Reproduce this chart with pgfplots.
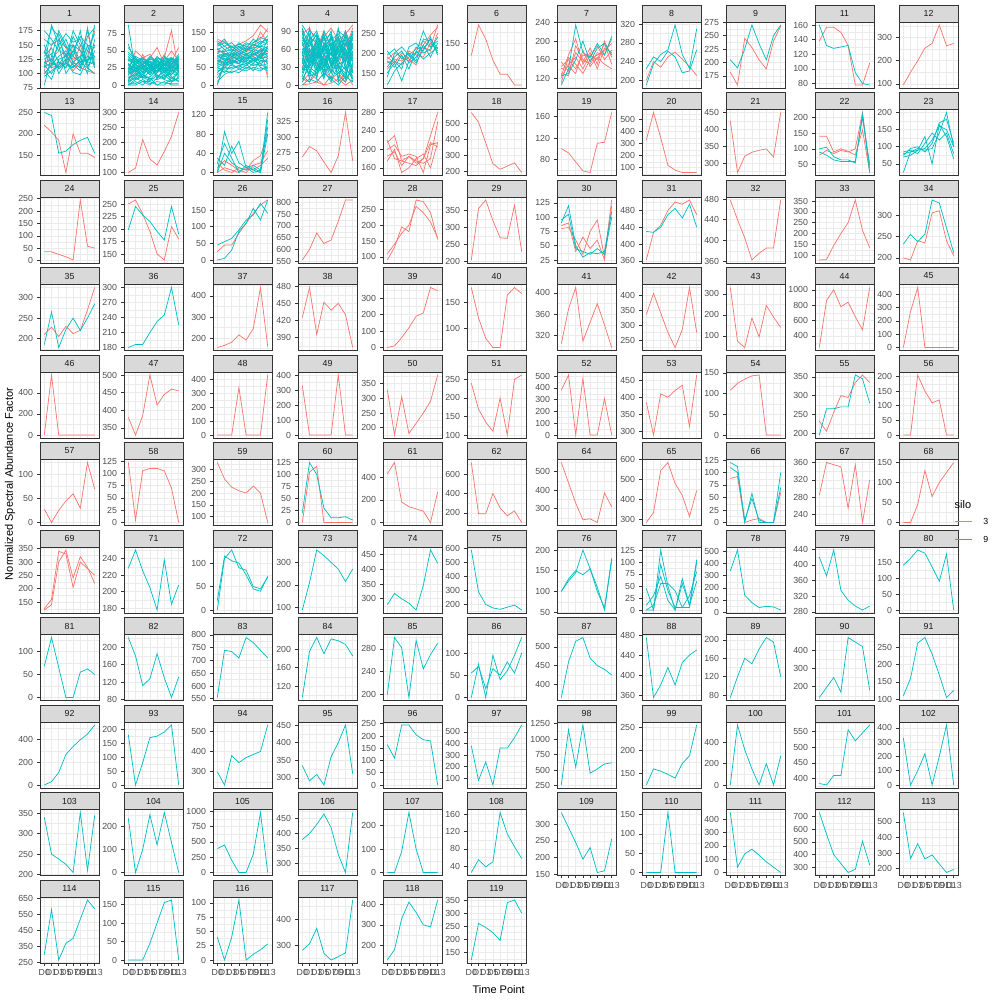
\documentclass[border=0pt]{standalone}
\usepackage{fontspec}
\setmainfont{Liberation Sans}
\usepackage{pgfplots}
\pgfplotsset{compat=1.18}
\definecolor{c3}{HTML}{F8766D}
\definecolor{c9}{HTML}{00BFC4}
\definecolor{gridc}{HTML}{EBEBEB}
\definecolor{framec}{HTML}{333333}
\definecolor{stripc}{HTML}{D9D9D9}
\definecolor{tickc}{HTML}{4D4D4D}
\newcommand\tf{\fontsize{6.6}{7.5}\selectfont}
\pgfplotsset{
  pan/.style={scale only axis, width=44.25pt, height=49.5pt, anchor=north west,
    xmin=0.4, xmax=8.6, xtick={1,...,8}, xticklabels={}, xtick style={draw=none},
    enlarge y limits=0.05, scaled y ticks=false,
    grid=both, minor y tick num=1, minor tick length=0pt,
    major grid style={line width=0.45pt, color=gridc},
    minor grid style={line width=0.25pt, color=gridc},
    axis line style={line width=0.5pt, color=framec},
    tick align=outside, tick pos=left, major tick length=2.06pt,
    every tick/.append style={line width=0.45pt, color=framec},
    ticklabel style={font=\tf, text=tickc},
    yticklabel style={/pgf/number format/fixed, /pgf/number format/1000 sep={}, xshift=0.3pt},
    /pgf/number format/assume math mode=true,
    title style={at={(0.5,1)}, anchor=south, yshift=-6.25pt, fill=stripc, draw=framec,
      line width=0.5pt, inner sep=0pt, minimum width=44.25pt, minimum height=12.75pt,
      font=\tf, text=black!90},
  },
  bot/.style={xticklabels={D0,D1,D3,D5,D7,D9,D11,D13}, xtick style={draw=framec},
    xticklabel style={yshift=0.6pt}},
  sR/.style={color=c3, line width=0.55pt, no markers},
  sC/.style={color=c9, line width=0.55pt, no markers},
}
\newcommand\pnl[5]{\begin{axis}[pan,at={(#1pt,-#2pt)},title={#3},#4]#5\end{axis}}
\begin{document}
\begin{tikzpicture}
\useasboundingbox (0,0) rectangle (750pt,-750pt);
% ---------------- Row 1
\pnl{30}{16.5}{1}{ytick distance=25}{
\addplot[sR] coordinates {(1,120)(2,125)(3,140)(4,135)(5,115)(6,150)(7,110)(8,100)};
\addplot[sR] coordinates {(1,105)(2,150)(3,160)(4,145)(5,125)(6,130)(7,175)(8,110)};
\addplot[sR] coordinates {(1,140)(2,110)(3,115)(4,125)(5,105)(6,120)(7,130)(8,175)};
\addplot[sR] coordinates {(1,100)(2,115)(3,120)(4,110)(5,150)(6,110)(7,105)(8,100)};
\addplot[sC] coordinates {(1,120)(2,110)(3,160)(4,130)(5,150)(6,140)(7,120)(8,185)};
\addplot[sC] coordinates {(1,80)(2,130)(3,175)(4,150)(5,120)(6,130)(7,100)(8,160)};
\addplot[sC] coordinates {(1,110)(2,185)(3,150)(4,170)(5,155)(6,160)(7,115)(8,120)};
\addplot[sC] coordinates {(1,150)(2,120)(3,110)(4,125)(5,175)(6,150)(7,140)(8,130)};
\addplot[sC] coordinates {(1,130)(2,145)(3,120)(4,115)(5,110)(6,125)(7,165)(8,180)};
\addplot[sC] coordinates {(1,100)(2,115)(3,130)(4,140)(5,120)(6,110)(7,150)(8,110)};
\addplot[sC] coordinates {(1,175)(2,160)(3,140)(4,160)(5,130)(6,175)(7,110)(8,140)};
\addplot[sC] coordinates {(1,115)(2,100)(3,120)(4,110)(5,140)(6,115)(7,130)(8,125)};
\addplot[sC] coordinates {(1,125)(2,135)(3,100)(4,120)(5,165)(6,140)(7,120)(8,150)};
\addplot[sC] coordinates {(1,140)(2,120)(3,150)(4,100)(5,120)(6,110)(7,180)(8,115)};
\addplot[sC] coordinates {(1,95)(2,105)(3,115)(4,135)(5,130)(6,120)(7,110)(8,100)};
\addplot[sC] coordinates {(1,160)(2,150)(3,170)(4,145)(5,150)(6,120)(7,125)(8,130)};
\addplot[sC] coordinates {(1,118)(2,125)(3,108)(4,118)(5,112)(6,122)(7,120)(8,118)};
\addplot[sC] coordinates {(1,105)(2,90)(3,125)(4,130)(5,115)(6,105)(7,140)(8,170)};
\addplot[sC] coordinates {(1,135)(2,180)(3,165)(4,120)(5,140)(6,165)(7,150)(8,145)};
\addplot[sC] coordinates {(1,112)(2,118)(3,112)(4,120)(5,102)(6,98)(7,124)(8,128)};
}
\pnl{93}{16.5}{2}{ytick distance=25}{
\addplot[sR] coordinates {(1,20)(2,50)(3,40)(4,45)(5,30)(6,40)(7,80)(8,20)};
\addplot[sR] coordinates {(1,10)(2,25)(3,30)(4,40)(5,55)(6,30)(7,35)(8,55)};
\addplot[sR] coordinates {(1,5)(2,15)(3,10)(4,20)(5,25)(6,45)(7,20)(8,30)};
\addplot[sR] coordinates {(1,30)(2,20)(3,45)(4,25)(5,40)(6,35)(7,50)(8,35)};
\addplot[sC] coordinates {(1,88)(2,20)(3,15)(4,30)(5,10)(6,25)(7,5)(8,20)};
\addplot[sC] coordinates {(1,0)(2,5)(3,0)(4,10)(5,0)(6,5)(7,0)(8,0)};
\addplot[sC] coordinates {(1,40)(2,30)(3,35)(4,25)(5,30)(6,20)(7,35)(8,30)};
\addplot[sC] coordinates {(1,20)(2,35)(3,25)(4,15)(5,30)(6,35)(7,20)(8,40)};
\addplot[sC] coordinates {(1,10)(2,15)(3,20)(4,25)(5,15)(6,10)(7,25)(8,15)};
\addplot[sC] coordinates {(1,30)(2,25)(3,30)(4,35)(5,28)(6,30)(7,25)(8,35)};
\addplot[sC] coordinates {(1,5)(2,10)(3,5)(4,0)(5,10)(6,15)(7,5)(8,10)};
\addplot[sC] coordinates {(1,55)(2,40)(3,30)(4,38)(5,35)(6,30)(7,40)(8,25)};
\addplot[sC] coordinates {(1,25)(2,20)(3,35)(4,30)(5,20)(6,25)(7,30)(8,20)};
\addplot[sC] coordinates {(1,15)(2,25)(3,10)(4,20)(5,25)(6,20)(7,15)(8,30)};
\addplot[sC] coordinates {(1,35)(2,40)(3,28)(4,30)(5,40)(6,35)(7,30)(8,45)};
\addplot[sC] coordinates {(1,0)(2,0)(3,5)(4,5)(5,0)(6,0)(7,10)(8,5)};
\addplot[sC] coordinates {(1,45)(2,35)(3,40)(4,30)(5,25)(6,40)(7,35)(8,30)};
\addplot[sC] coordinates {(1,22)(2,28)(3,18)(4,22)(5,30)(6,25)(7,20)(8,25)};
\addplot[sC] coordinates {(1,12)(2,8)(3,15)(4,10)(5,8)(6,12)(7,18)(8,12)};
\addplot[sC] coordinates {(1,60)(2,30)(3,25)(4,35)(5,30)(6,30)(7,25)(8,40)};
\addplot[sC] coordinates {(1,32)(2,20)(3,25)(4,38)(5,35)(6,28)(7,38)(8,28)};
\addplot[sC] coordinates {(1,18)(2,30)(3,22)(4,28)(5,18)(6,32)(7,28)(8,22)};
\addplot[sC] coordinates {(1,8)(2,18)(3,30)(4,15)(5,22)(6,18)(7,10)(8,18)};
\addplot[sC] coordinates {(1,28)(2,38)(3,32)(4,40)(5,32)(6,38)(7,40)(8,35)};
\addplot[sC] coordinates {(1,2)(2,2)(3,8)(4,2)(5,5)(6,3)(7,2)(8,2)};
\addplot[sC] coordinates {(1,38)(2,25)(3,20)(4,25)(5,38)(6,22)(7,32)(8,38)};
\addplot[sC] coordinates {(1,3)(2,12)(3,25)(4,18)(5,30)(6,8)(7,22)(8,14)};
\addplot[sC] coordinates {(1,42)(2,30)(3,38)(4,33)(5,27)(6,36)(7,30)(8,42)};
\addplot[sC] coordinates {(1,16)(2,22)(3,12)(4,30)(5,20)(6,28)(7,35)(8,26)};
\addplot[sC] coordinates {(1,26)(2,15)(3,28)(4,20)(5,35)(6,18)(7,25)(8,32)};
\addplot[sC] coordinates {(1,6)(2,25)(3,15)(4,8)(5,18)(6,25)(7,12)(8,6)};
\addplot[sC] coordinates {(1,36)(2,32)(3,40)(4,28)(5,42)(6,30)(7,38)(8,33)};
\addplot[sC] coordinates {(1,20)(2,10)(3,18)(4,35)(5,12)(6,20)(7,28)(8,18)};
\addplot[sC] coordinates {(1,48)(2,38)(3,30)(4,42)(5,35)(6,42)(7,30)(8,38)};
\addplot[sC] coordinates {(1,14)(2,35)(3,30)(4,22)(5,28)(6,14)(7,32)(8,24)};
\addplot[sC] coordinates {(1,30)(2,18)(3,10)(4,12)(5,22)(6,30)(7,15)(8,28)};
\addplot[sC] coordinates {(1,0)(2,8)(3,12)(4,6)(5,14)(6,8)(7,4)(8,12)};
\addplot[sC] coordinates {(1,24)(2,42)(3,36)(4,26)(5,20)(6,34)(7,40)(8,30)};
}
\pnl{159.75}{16.5}{3}{ytick distance=50}{
\addplot[sR] coordinates {(1,130)(2,120)(3,110)(4,115)(5,125)(6,140)(7,170)(8,150)};
\addplot[sR] coordinates {(1,0)(2,60)(3,75)(4,80)(5,90)(6,85)(7,100)(8,30)};
\addplot[sR] coordinates {(1,100)(2,90)(3,80)(4,110)(5,95)(6,120)(7,130)(8,160)};
\addplot[sR] coordinates {(1,70)(2,80)(3,90)(4,85)(5,100)(6,95)(7,110)(8,20)};
\addplot[sR] coordinates {(1,115)(2,125)(3,100)(4,95)(5,110)(6,105)(7,150)(8,120)};
\addplot[sR] coordinates {(1,60)(2,70)(3,65)(4,75)(5,85)(6,80)(7,95)(8,90)};
\addplot[sC] coordinates {(1,0)(2,70)(3,80)(4,90)(5,85)(6,100)(7,95)(8,110)};
\addplot[sC] coordinates {(1,60)(2,55)(3,70)(4,65)(5,80)(6,75)(7,85)(8,90)};
\addplot[sC] coordinates {(1,80)(2,90)(3,75)(4,85)(5,95)(6,90)(7,80)(8,100)};
\addplot[sC] coordinates {(1,50)(2,60)(3,55)(4,50)(5,70)(6,65)(7,75)(8,80)};
\addplot[sC] coordinates {(1,100)(2,110)(3,95)(4,105)(5,120)(6,110)(7,125)(8,115)};
\addplot[sC] coordinates {(1,70)(2,65)(3,80)(4,70)(5,60)(6,75)(7,70)(8,65)};
\addplot[sC] coordinates {(1,40)(2,45)(3,50)(4,55)(5,45)(6,60)(7,55)(8,60)};
\addplot[sC] coordinates {(1,120)(2,100)(3,110)(4,95)(5,105)(6,130)(7,115)(8,140)};
\addplot[sC] coordinates {(1,90)(2,80)(3,85)(4,95)(5,90)(6,85)(7,100)(8,95)};
\addplot[sC] coordinates {(1,30)(2,40)(3,35)(4,45)(5,40)(6,50)(7,45)(8,50)};
\addplot[sC] coordinates {(1,110)(2,120)(3,105)(4,115)(5,110)(6,100)(7,120)(8,130)};
\addplot[sC] coordinates {(1,65)(2,75)(3,70)(4,60)(5,75)(6,80)(7,65)(8,70)};
\addplot[sC] coordinates {(1,85)(2,70)(3,90)(4,80)(5,70)(6,95)(7,90)(8,85)};
\addplot[sC] coordinates {(1,55)(2,65)(3,60)(4,70)(5,65)(6,55)(7,60)(8,75)};
\addplot[sC] coordinates {(1,75)(2,85)(3,65)(4,75)(5,85)(6,70)(7,80)(8,60)};
\addplot[sC] coordinates {(1,10)(2,30)(3,40)(4,35)(5,50)(6,45)(7,40)(8,55)};
\addplot[sC] coordinates {(1,95)(2,95)(3,100)(4,90)(5,100)(6,105)(7,110)(8,120)};
\addplot[sC] coordinates {(1,45)(2,50)(3,65)(4,60)(5,55)(6,70)(7,60)(8,45)};
\addplot[sC] coordinates {(1,35)(2,55)(3,75)(4,60)(5,90)(6,70)(7,80)(8,105)};
\addplot[sC] coordinates {(1,105)(2,85)(3,95)(4,120)(5,100)(6,115)(7,105)(8,95)};
\addplot[sC] coordinates {(1,20)(2,50)(3,45)(4,55)(5,60)(6,40)(7,70)(8,65)};
\addplot[sC] coordinates {(1,80)(2,75)(3,60)(4,80)(5,65)(6,90)(7,75)(8,110)};
\addplot[sC] coordinates {(1,125)(2,110)(3,120)(4,100)(5,115)(6,120)(7,135)(8,125)};
\addplot[sC] coordinates {(1,60)(2,90)(3,85)(4,70)(5,80)(6,60)(7,90)(8,75)};
\addplot[sC] coordinates {(1,90)(2,100)(3,80)(4,95)(5,105)(6,95)(7,85)(8,130)};
\addplot[sC] coordinates {(1,50)(2,35)(3,60)(4,45)(5,55)(6,75)(7,50)(8,40)};
\addplot[sC] coordinates {(1,70)(2,60)(3,95)(4,85)(5,75)(6,85)(7,100)(8,80)};
\addplot[sC] coordinates {(1,115)(2,130)(3,100)(4,110)(5,95)(6,115)(7,110)(8,105)};
}
\pnl{223.5}{16.5}{4}{ytick distance=30}{
\addplot[sR] coordinates {(1,90)(2,70)(3,50)(4,60)(5,80)(6,40)(7,60)(8,95)};
\addplot[sR] coordinates {(1,5)(2,20)(3,10)(4,0)(5,15)(6,5)(7,20)(8,0)};
\addplot[sR] coordinates {(1,50)(2,40)(3,80)(4,70)(5,40)(6,60)(7,90)(8,60)};
\addplot[sR] coordinates {(1,30)(2,60)(3,30)(4,50)(5,20)(6,80)(7,40)(8,80)};
\addplot[sR] coordinates {(1,70)(2,50)(3,60)(4,90)(5,60)(6,30)(7,70)(8,40)};
\addplot[sR] coordinates {(1,10)(2,5)(3,20)(4,30)(5,10)(6,20)(7,5)(8,30)};
\addplot[sR] coordinates {(1,0)(2,2)(3,5)(4,0)(5,3)(6,10)(7,0)(8,8)};
\addplot[sR] coordinates {(1,85)(2,95)(3,70)(4,80)(5,95)(6,75)(7,85)(8,100)};
\addplot[sC] coordinates {(1,95)(2,60)(3,40)(4,80)(5,30)(6,60)(7,70)(8,50)};
\addplot[sC] coordinates {(1,10)(2,30)(3,20)(4,50)(5,40)(6,20)(7,30)(8,10)};
\addplot[sC] coordinates {(1,50)(2,70)(3,60)(4,30)(5,80)(6,50)(7,40)(8,70)};
\addplot[sC] coordinates {(1,30)(2,20)(3,50)(4,40)(5,20)(6,70)(7,60)(8,40)};
\addplot[sC] coordinates {(1,70)(2,90)(3,80)(4,60)(5,50)(6,40)(7,80)(8,60)};
\addplot[sC] coordinates {(1,0)(2,10)(3,5)(4,20)(5,10)(6,0)(7,15)(8,5)};
\addplot[sC] coordinates {(1,60)(2,40)(3,70)(4,50)(5,60)(6,80)(7,50)(8,30)};
\addplot[sC] coordinates {(1,80)(2,50)(3,30)(4,70)(5,40)(6,30)(7,20)(8,80)};
\addplot[sC] coordinates {(1,20)(2,60)(3,40)(4,10)(5,70)(6,50)(7,60)(8,20)};
\addplot[sC] coordinates {(1,40)(2,30)(3,60)(4,80)(5,50)(6,60)(7,30)(8,50)};
\addplot[sC] coordinates {(1,100)(2,80)(3,70)(4,40)(5,60)(6,70)(7,50)(8,90)};
\addplot[sC] coordinates {(1,15)(2,5)(3,30)(4,25)(5,5)(6,35)(7,10)(8,25)};
\addplot[sC] coordinates {(1,55)(2,75)(3,45)(4,65)(5,35)(6,45)(7,85)(8,45)};
\addplot[sC] coordinates {(1,35)(2,45)(3,25)(4,35)(5,55)(6,25)(7,45)(8,65)};
\addplot[sC] coordinates {(1,75)(2,65)(3,85)(4,55)(5,75)(6,85)(7,65)(8,75)};
\addplot[sC] coordinates {(1,45)(2,25)(3,15)(4,45)(5,25)(6,15)(7,5)(8,35)};
\addplot[sC] coordinates {(1,85)(2,55)(3,65)(4,75)(5,85)(6,55)(7,75)(8,55)};
\addplot[sC] coordinates {(1,25)(2,35)(3,55)(4,15)(5,45)(6,40)(7,25)(8,15)};
\addplot[sC] coordinates {(1,65)(2,85)(3,35)(4,25)(5,55)(6,75)(7,35)(8,85)};
\addplot[sC] coordinates {(1,5)(2,40)(3,60)(4,30)(5,65)(6,10)(7,55)(8,40)};
\addplot[sC] coordinates {(1,90)(2,30)(3,50)(4,85)(5,30)(6,90)(7,80)(8,20)};
\addplot[sC] coordinates {(1,25)(2,75)(3,90)(4,55)(5,20)(6,45)(7,70)(8,60)};
\addplot[sC] coordinates {(1,50)(2,15)(3,20)(4,65)(5,90)(6,25)(7,10)(8,70)};
\addplot[sC] coordinates {(1,80)(2,45)(3,75)(4,35)(5,45)(6,65)(7,90)(8,35)};
\addplot[sC] coordinates {(1,35)(2,95)(3,25)(4,60)(5,80)(6,35)(7,40)(8,90)};
\addplot[sC] coordinates {(1,60)(2,65)(3,85)(4,15)(5,35)(6,55)(7,60)(8,10)};
\addplot[sC] coordinates {(1,15)(2,50)(3,45)(4,90)(5,65)(6,80)(7,25)(8,45)};
\addplot[sC] coordinates {(1,95)(2,20)(3,55)(4,45)(5,10)(6,50)(7,85)(8,65)};
\addplot[sC] coordinates {(1,40)(2,80)(3,10)(4,70)(5,50)(6,95)(7,45)(8,25)};
\addplot[sC] coordinates {(1,70)(2,35)(3,65)(4,20)(5,85)(6,5)(7,70)(8,85)};
\addplot[sC] coordinates {(1,55)(2,10)(3,80)(4,50)(5,70)(6,30)(7,15)(8,55)};
\addplot[sC] coordinates {(1,20)(2,55)(3,40)(4,85)(5,30)(6,65)(7,50)(8,5)};
}
\pnl{287.25}{16.5}{5}{ytick distance=50}{
\addplot[sR] coordinates {(1,175)(2,185)(3,180)(4,195)(5,210)(6,230)(7,215)(8,270)};
\addplot[sR] coordinates {(1,190)(2,175)(3,200)(4,185)(5,170)(6,220)(7,245)(8,265)};
\addplot[sR] coordinates {(1,160)(2,180)(3,170)(4,205)(5,195)(6,190)(7,225)(8,205)};
\addplot[sR] coordinates {(1,185)(2,200)(3,190)(4,180)(5,200)(6,215)(7,205)(8,250)};
\addplot[sC] coordinates {(1,120)(2,155)(3,175)(4,190)(5,200)(6,255)(7,215)(8,230)};
\addplot[sC] coordinates {(1,150)(2,175)(3,130)(4,180)(5,215)(6,205)(7,240)(8,195)};
\addplot[sC] coordinates {(1,165)(2,190)(3,205)(4,175)(5,190)(6,220)(7,190)(8,225)};
\addplot[sC] coordinates {(1,195)(2,210)(3,185)(4,200)(5,180)(6,235)(7,230)(8,200)};
\addplot[sC] coordinates {(1,180)(2,165)(3,195)(4,160)(5,205)(6,185)(7,200)(8,215)};
\addplot[sC] coordinates {(1,205)(2,180)(3,160)(4,215)(5,225)(6,200)(7,210)(8,240)};
\addplot[sC] coordinates {(1,140)(2,200)(3,215)(4,195)(5,175)(6,210)(7,235)(8,210)};
}
\pnl{350.25}{16.5}{6}{ytick distance=50}{
\addplot[sR] coordinates {(1,125)(2,190)(3,160)(4,115)(5,85)(6,85)(7,62)(8,62)};
}
\pnl{417.75}{16.5}{7}{ytick distance=40}{
\addplot[sR] coordinates {(1,120)(2,150)(3,165)(4,140)(5,170)(6,160)(7,195)(8,150)};
\addplot[sR] coordinates {(1,130)(2,125)(3,190)(4,160)(5,150)(6,175)(7,170)(8,205)};
\addplot[sR] coordinates {(1,145)(2,160)(3,140)(4,170)(5,165)(6,190)(7,160)(8,180)};
\addplot[sR] coordinates {(1,155)(2,135)(3,175)(4,155)(5,185)(6,150)(7,200)(8,165)};
\addplot[sR] coordinates {(1,110)(2,165)(3,150)(4,130)(5,160)(6,170)(7,180)(8,195)};
\addplot[sR] coordinates {(1,140)(2,145)(3,130)(4,180)(5,145)(6,165)(7,150)(8,140)};
\addplot[sR] coordinates {(1,125)(2,170)(3,205)(4,150)(5,175)(6,140)(7,185)(8,175)};
\addplot[sC] coordinates {(1,105)(2,140)(3,235)(4,175)(5,165)(6,195)(7,170)(8,210)};
\addplot[sC] coordinates {(1,125)(2,130)(3,160)(4,200)(5,155)(6,185)(7,195)(8,170)};
}
\pnl{481.5}{16.5}{8}{ytick distance=40}{
\addplot[sR] coordinates {(1,200)(2,240)(3,228)(4,250)(5,260)(6,245)(7,230)(8,210)};
\addplot[sC] coordinates {(1,190)(2,235)(3,255)(4,265)(5,318)(6,255)(7,225)(8,310)};
\addplot[sC] coordinates {(1,225)(2,250)(3,240)(4,262)(5,250)(6,216)(7,220)(8,265)};
}
\pnl{544.5}{16.5}{9}{ytick distance=25}{
\addplot[sR] coordinates {(1,182)(2,158)(3,245)(4,228)(5,205)(6,188)(7,240)(8,268)};
\addplot[sC] coordinates {(1,205)(2,190)(3,225)(4,270)(5,235)(6,205)(7,250)(8,270)};
}
\pnl{611.25}{16.5}{11}{ytick distance=20}{
\addplot[sR] coordinates {(1,138)(2,157)(3,157)(4,150)(5,132)(6,78)(7,78)(8,108)};
\addplot[sC] coordinates {(1,160)(2,132)(3,128)(4,130)(5,132)(6,95)(7,80)(8,78)};
}
\pnl{674.25}{16.5}{12}{ytick distance=100}{
\addplot[sR] coordinates {(1,95)(2,150)(3,200)(4,255)(5,275)(6,355)(7,265)(8,275)};
}
% ---------------- Row 2
\pnl{30}{82.125}{13}{ytick distance=50}{
\addplot[sR] coordinates {(1,220)(2,205)(3,185)(4,110)(5,200)(6,155)(7,155)(8,145)};
\addplot[sC] coordinates {(1,250)(2,243)(3,155)(4,160)(5,175)(6,185)(7,192)(8,155)};
}
\pnl{93}{82.125}{14}{ytick distance=50}{
\addplot[sR] coordinates {(1,100)(2,115)(3,210)(4,145)(5,125)(6,170)(7,220)(8,300)};
}
\pnl{159.75}{82.125}{15}{ytick distance=40}{
\addplot[sR] coordinates {(1,20)(2,5)(3,0)(4,10)(5,5)(6,25)(7,35)(8,80)};
\addplot[sR] coordinates {(1,0)(2,10)(3,5)(4,0)(5,10)(6,5)(7,15)(8,30)};
\addplot[sR] coordinates {(1,10)(2,25)(3,15)(4,5)(5,0)(6,15)(7,20)(8,45)};
\addplot[sC] coordinates {(1,0)(2,85)(3,40)(4,65)(5,10)(6,0)(7,5)(8,125)};
\addplot[sC] coordinates {(1,20)(2,60)(3,30)(4,0)(5,15)(6,5)(7,0)(8,80)};
\addplot[sC] coordinates {(1,0)(2,40)(3,20)(4,10)(5,5)(6,10)(7,0)(8,110)};
\addplot[sC] coordinates {(1,30)(2,15)(3,55)(4,20)(5,10)(6,15)(7,5)(8,95)};
}
\pnl{223.5}{82.125}{16}{ytick distance=25}{
\addplot[sR] coordinates {(1,268)(2,285)(3,278)(4,260)(5,243)(6,270)(7,340)(8,262)};
}
\pnl{287.25}{82.125}{17}{ytick distance=40}{
\addplot[sR] coordinates {(1,215)(2,230)(3,175)(4,185)(5,170)(6,180)(7,230)(8,280)};
\addplot[sR] coordinates {(1,200)(2,210)(3,185)(4,190)(5,185)(6,150)(7,210)(8,215)};
\addplot[sR] coordinates {(1,185)(2,195)(3,165)(4,185)(5,175)(6,170)(7,180)(8,260)};
\addplot[sR] coordinates {(1,175)(2,200)(3,150)(4,160)(5,180)(6,190)(7,160)(8,215)};
\addplot[sR] coordinates {(1,220)(2,180)(3,175)(4,170)(5,165)(6,180)(7,215)(8,205)};
}
\pnl{350.25}{82.125}{18}{ytick distance=100}{
\addplot[sR] coordinates {(1,570)(2,510)(3,380)(4,250)(5,215)(6,235)(7,255)(8,195)};
}
\pnl{417.75}{82.125}{19}{ytick distance=40}{
\addplot[sR] coordinates {(1,100)(2,92)(3,75)(4,58)(5,55)(6,110)(7,112)(8,168)};
}
\pnl{481.5}{82.125}{20}{ytick distance=100}{
\addplot[sR] coordinates {(1,330)(2,560)(3,350)(4,120)(5,80)(6,60)(7,60)(8,60)};
}
\pnl{544.5}{82.125}{21}{ytick distance=50}{
\addplot[sR] coordinates {(1,425)(2,272)(3,320)(4,332)(5,338)(6,342)(7,318)(8,450)};
}
\pnl{611.25}{82.125}{22}{ytick distance=50}{
\addplot[sR] coordinates {(1,140)(2,140)(3,90)(4,100)(5,92)(6,80)(7,160)(8,25)};
\addplot[sR] coordinates {(1,80)(2,95)(3,85)(4,95)(5,90)(6,100)(7,215)(8,40)};
\addplot[sC] coordinates {(1,100)(2,105)(3,75)(4,65)(5,65)(6,55)(7,210)(8,25)};
\addplot[sC] coordinates {(1,90)(2,80)(3,65)(4,60)(5,60)(6,60)(7,200)(8,50)};
}
\pnl{674.25}{82.125}{23}{ytick distance=50}{
\addplot[sC] coordinates {(1,25)(2,85)(3,90)(4,130)(5,50)(6,165)(7,130)(8,65)};
\addplot[sC] coordinates {(1,80)(2,85)(3,95)(4,90)(5,95)(6,140)(7,200)(8,100)};
\addplot[sC] coordinates {(1,70)(2,75)(3,90)(4,95)(5,120)(6,160)(7,150)(8,100)};
\addplot[sC] coordinates {(1,85)(2,90)(3,80)(4,110)(5,140)(6,120)(7,140)(8,80)};
\addplot[sC] coordinates {(1,75)(2,95)(3,100)(4,85)(5,110)(6,170)(7,180)(8,110)};
}
% ---------------- Row 3
\pnl{30}{147.75}{24}{ytick distance=50}{
\addplot[sR] coordinates {(1,35)(2,35)(3,25)(4,15)(5,2)(6,245)(7,58)(8,50)};
}
\pnl{93}{147.75}{25}{ytick distance=25}{
\addplot[sR] coordinates {(1,250)(2,258)(3,230)(4,195)(5,150)(6,138)(7,205)(8,180)};
\addplot[sC] coordinates {(1,198)(2,245)(3,228)(4,215)(5,195)(6,178)(7,245)(8,190)};
}
\pnl{159.75}{147.75}{26}{ytick distance=50}{
\addplot[sR] coordinates {(1,25)(2,45)(3,45)(4,80)(5,110)(6,140)(7,165)(8,180)};
\addplot[sC] coordinates {(1,0)(2,5)(3,30)(4,85)(5,110)(6,155)(7,120)(8,180)};
\addplot[sC] coordinates {(1,45)(2,55)(3,65)(4,90)(5,120)(6,135)(7,170)(8,140)};
}
\pnl{223.5}{147.75}{27}{ytick distance=50}{
\addplot[sR] coordinates {(1,555)(2,600)(3,670)(4,625)(5,640)(6,720)(7,810)(8,810)};
}
\pnl{287.25}{147.75}{28}{ytick distance=50}{
\addplot[sR] coordinates {(1,90)(2,130)(3,195)(4,180)(5,280)(6,275)(7,240)(8,155)};
\addplot[sR] coordinates {(1,110)(2,140)(3,175)(4,200)(5,260)(6,240)(7,210)(8,160)};
}
\pnl{350.25}{147.75}{29}{ytick distance=50}{
\addplot[sR] coordinates {(1,205)(2,355)(3,380)(4,320)(5,270)(6,268)(7,365)(8,230)};
}
\pnl{417.75}{147.75}{30}{ytick distance=25}{
\addplot[sR] coordinates {(1,80)(2,82)(3,60)(4,35)(5,75)(6,95)(7,30)(8,130)};
\addplot[sR] coordinates {(1,85)(2,90)(3,40)(4,65)(5,45)(6,60)(7,25)(8,120)};
\addplot[sC] coordinates {(1,90)(2,120)(3,50)(4,30)(5,38)(6,36)(7,40)(8,110)};
\addplot[sC] coordinates {(1,95)(2,105)(3,45)(4,40)(5,35)(6,45)(7,35)(8,100)};
}
\pnl{481.5}{147.75}{31}{ytick distance=40}{
\addplot[sR] coordinates {(1,362)(2,428)(3,445)(4,480)(5,500)(6,495)(7,505)(8,470)};
\addplot[sC] coordinates {(1,430)(2,428)(3,440)(4,470)(5,485)(6,462)(7,495)(8,440)};
}
\pnl{544.5}{147.75}{32}{ytick distance=40}{
\addplot[sR] coordinates {(1,478)(2,440)(3,405)(4,362)(5,375)(6,385)(7,385)(8,478)};
}
\pnl{611.25}{147.75}{33}{ytick distance=50}{
\addplot[sR] coordinates {(1,78)(2,80)(3,145)(4,200)(5,250)(6,355)(7,215)(8,135)};
}
\pnl{674.25}{147.75}{34}{ytick distance=50}{
\addplot[sR] coordinates {(1,200)(2,195)(3,240)(4,235)(5,305)(6,310)(7,240)(8,205)};
\addplot[sC] coordinates {(1,232)(2,255)(3,238)(4,255)(5,335)(6,328)(7,270)(8,212)};
}
% ---------------- Row 4
\pnl{30}{213.375}{35}{ytick distance=50}{
\addplot[sR] coordinates {(1,210)(2,228)(3,205)(4,230)(5,212)(6,220)(7,270)(8,325)};
\addplot[sC] coordinates {(1,185)(2,265)(3,178)(4,222)(5,250)(6,220)(7,250)(8,285)};
}
\pnl{93}{213.375}{36}{ytick distance=30}{
\addplot[sC] coordinates {(1,180)(2,186)(3,186)(4,210)(5,232)(6,245)(7,300)(8,225)};
}
\pnl{159.75}{213.375}{37}{ytick distance=100}{
\addplot[sR] coordinates {(1,155)(2,165)(3,180)(4,215)(5,190)(6,245)(7,440)(8,160)};
}
\pnl{223.5}{213.375}{38}{ytick distance=30}{
\addplot[sR] coordinates {(1,425)(2,478)(3,395)(4,452)(5,438)(6,450)(7,430)(8,372)};
}
\pnl{287.25}{213.375}{39}{ytick distance=100}{
\addplot[sR] coordinates {(1,0)(2,10)(3,60)(4,120)(5,190)(6,210)(7,365)(8,345)};
}
\pnl{350.25}{213.375}{40}{ytick distance=50}{
\addplot[sR] coordinates {(1,180)(2,120)(3,80)(4,62)(5,62)(6,165)(7,180)(8,168)};
}
\pnl{417.75}{213.375}{41}{ytick distance=40}{
\addplot[sR] coordinates {(1,305)(2,370)(3,410)(4,310)(5,345)(6,380)(7,340)(8,298)};
}
\pnl{481.5}{213.375}{42}{ytick distance=50}{
\addplot[sR] coordinates {(1,335)(2,405)(3,340)(4,275)(5,225)(6,285)(7,425)(8,275)};
}
\pnl{544.5}{213.375}{43}{ytick distance=100}{
\addplot[sR] coordinates {(1,330)(2,75)(3,45)(4,185)(5,95)(6,245)(7,190)(8,140)};
}
\pnl{611.25}{213.375}{44}{ytick distance=200}{
\addplot[sR] coordinates {(1,250)(2,860)(3,1000)(4,780)(5,840)(6,650)(7,480)(8,1030)};
}
\pnl{674.25}{213.375}{45}{ytick distance=100}{
\addplot[sR] coordinates {(1,0)(2,270)(3,450)(4,0)(5,0)(6,0)(7,0)(8,0)};
}
% ---------------- Row 5
\pnl{30}{279}{46}{ytick distance=200}{
\addplot[sR] coordinates {(1,0)(2,570)(3,0)(4,0)(5,0)(6,0)(7,0)(8,0)};
}
\pnl{93}{279}{47}{ytick distance=50}{
\addplot[sR] coordinates {(1,380)(2,330)(3,385)(4,500)(5,415)(6,445)(7,460)(8,455)};
}
\pnl{159.75}{279}{48}{ytick distance=100}{
\addplot[sR] coordinates {(1,0)(2,0)(3,0)(4,340)(5,0)(6,0)(7,0)(8,430)};
}
\pnl{223.5}{279}{49}{ytick distance=100}{
\addplot[sR] coordinates {(1,330)(2,0)(3,0)(4,0)(5,0)(6,400)(7,0)(8,0)};
}
\pnl{287.25}{279}{50}{ytick distance=50}{
\addplot[sR] coordinates {(1,330)(2,175)(3,305)(4,180)(5,215)(6,250)(7,290)(8,380)};
}
\pnl{350.25}{279}{51}{ytick distance=50}{
\addplot[sR] coordinates {(1,240)(2,170)(3,135)(4,110)(5,200)(6,100)(7,250)(8,262)};
}
\pnl{417.75}{279}{52}{ytick distance=100}{
\addplot[sR] coordinates {(1,380)(2,510)(3,0)(4,480)(5,0)(6,0)(7,310)(8,0)};
}
\pnl{481.5}{279}{53}{ytick distance=50}{
\addplot[sR] coordinates {(1,385)(2,290)(3,410)(4,400)(5,420)(6,435)(7,315)(8,465)};
}
\pnl{544.5}{279}{54}{ytick distance=50}{
\addplot[sR] coordinates {(1,108)(2,125)(3,135)(4,143)(5,145)(6,0)(7,0)(8,0)};
}
\pnl{611.25}{279}{55}{ytick distance=50}{
\addplot[sR] coordinates {(1,232)(2,205)(3,255)(4,300)(5,295)(6,335)(7,355)(8,335)};
\addplot[sC] coordinates {(1,195)(2,265)(3,265)(4,270)(5,270)(6,355)(7,345)(8,280)};
}
\pnl{674.25}{279}{56}{ytick distance=50}{
\addplot[sR] coordinates {(1,0)(2,0)(3,205)(4,150)(5,110)(6,120)(7,0)(8,0)};
}
% ---------------- Row 6
\pnl{30}{344.625}{57}{ytick distance=50}{
\addplot[sR] coordinates {(1,28)(2,0)(3,25)(4,45)(5,60)(6,30)(7,125)(8,70)};
}
\pnl{93}{344.625}{58}{ytick distance=25}{
\addplot[sR] coordinates {(1,122)(2,5)(3,105)(4,110)(5,110)(6,105)(7,70)(8,0)};
}
\pnl{159.75}{344.625}{59}{ytick distance=50}{
\addplot[sR] coordinates {(1,330)(2,260)(3,225)(4,210)(5,200)(6,230)(7,200)(8,75)};
}
\pnl{223.5}{344.625}{60}{ytick distance=25}{
\addplot[sR] coordinates {(1,0)(2,105)(3,117)(4,0)(5,0)(6,0)(7,0)(8,0)};
\addplot[sC] coordinates {(1,20)(2,125)(3,100)(4,30)(5,10)(6,10)(7,12)(8,5)};
}
\pnl{287.25}{344.625}{61}{ytick distance=200}{
\addplot[sR] coordinates {(1,430)(2,530)(3,180)(4,140)(5,120)(6,100)(7,0)(8,270)};
}
\pnl{350.25}{344.625}{62}{ytick distance=200}{
\addplot[sR] coordinates {(1,720)(2,190)(3,190)(4,400)(5,250)(6,170)(7,220)(8,100)};
}
\pnl{417.75}{344.625}{64}{ytick distance=100}{
\addplot[sR] coordinates {(1,550)(2,440)(3,330)(4,240)(5,245)(6,225)(7,385)(8,310)};
}
\pnl{481.5}{344.625}{65}{ytick distance=100}{
\addplot[sR] coordinates {(1,285)(2,335)(3,545)(4,585)(5,480)(6,420)(7,315)(8,445)};
}
\pnl{544.5}{344.625}{66}{ytick distance=25}{
\addplot[sR] coordinates {(1,88)(2,92)(3,0)(4,5)(5,8)(6,0)(7,0)(8,60)};
\addplot[sC] coordinates {(1,120)(2,112)(3,0)(4,58)(5,0)(6,0)(7,0)(8,100)};
\addplot[sC] coordinates {(1,110)(2,100)(3,5)(4,48)(5,5)(6,0)(7,0)(8,70)};
}
\pnl{611.25}{344.625}{67}{ytick distance=40}{
\addplot[sR] coordinates {(1,285)(2,360)(3,355)(4,350)(5,255)(6,355)(7,222)(8,320)};
}
\pnl{674.25}{344.625}{68}{ytick distance=50}{
\addplot[sR] coordinates {(1,0)(2,0)(3,45)(4,130)(5,65)(6,100)(7,125)(8,150)};
}
% ---------------- Row 7
\pnl{30}{410.25}{69}{ytick distance=50}{
\addplot[sR] coordinates {(1,120)(2,140)(3,300)(4,345)(5,240)(6,320)(7,280)(8,220)};
\addplot[sR] coordinates {(1,125)(2,160)(3,340)(4,330)(5,205)(6,300)(7,275)(8,250)};
}
\pnl{93}{410.25}{71}{ytick distance=20}{
\addplot[sC] coordinates {(1,228)(2,250)(3,225)(4,205)(5,178)(6,238)(7,185)(8,208)};
}
\pnl{159.75}{410.25}{72}{ytick distance=50}{
\addplot[sC] coordinates {(1,0)(2,110)(3,128)(4,90)(5,85)(6,50)(7,45)(8,70)};
\addplot[sC] coordinates {(1,20)(2,115)(3,105)(4,100)(5,75)(6,45)(7,40)(8,72)};
}
\pnl{223.5}{410.25}{73}{ytick distance=100}{
\addplot[sC] coordinates {(1,88)(2,210)(3,355)(4,330)(5,300)(6,270)(7,215)(8,270)};
}
\pnl{287.25}{410.25}{74}{ytick distance=50}{
\addplot[sC] coordinates {(1,280)(2,318)(3,300)(4,285)(5,262)(6,345)(7,465)(8,420)};
}
\pnl{350.25}{410.25}{75}{ytick distance=100}{
\addplot[sC] coordinates {(1,590)(2,290)(3,200)(4,175)(5,165)(6,180)(7,195)(8,160)};
}
\pnl{417.75}{410.25}{76}{ytick distance=50}{
\addplot[sC] coordinates {(1,100)(2,125)(3,145)(4,200)(5,155)(6,110)(7,55)(8,175)};
\addplot[sC] coordinates {(1,100)(2,130)(3,150)(4,140)(5,155)(6,100)(7,60)(8,180)};
}
\pnl{481.5}{410.25}{77}{ytick distance=25}{
\addplot[sC] coordinates {(1,0)(2,0)(3,125)(4,50)(5,0)(6,65)(7,10)(8,105)};
\addplot[sC] coordinates {(1,45)(2,0)(3,95)(4,40)(5,5)(6,5)(7,30)(8,80)};
\addplot[sC] coordinates {(1,0)(2,10)(3,55)(4,55)(5,40)(6,5)(7,5)(8,100)};
\addplot[sC] coordinates {(1,10)(2,30)(3,70)(4,20)(5,0)(6,55)(7,10)(8,60)};
}
\pnl{544.5}{410.25}{78}{ytick distance=100}{
\addplot[sC] coordinates {(1,340)(2,510)(3,140)(4,80)(5,40)(6,50)(7,45)(8,20)};
}
\pnl{611.25}{410.25}{79}{ytick distance=40}{
\addplot[sC] coordinates {(1,420)(2,372)(3,438)(4,335)(5,310)(6,295)(7,285)(8,295)};
}
\pnl{674.25}{410.25}{80}{ytick distance=50}{
\addplot[sC] coordinates {(1,140)(2,162)(3,188)(4,178)(5,135)(6,90)(7,175)(8,0)};
}
% ---------------- Row 8
\pnl{30}{475.875}{81}{ytick distance=50}{
\addplot[sC] coordinates {(1,68)(2,130)(3,65)(4,0)(5,0)(6,55)(7,62)(8,50)};
}
\pnl{93}{475.875}{82}{ytick distance=40}{
\addplot[sC] coordinates {(1,222)(2,180)(3,112)(4,128)(5,185)(6,130)(7,85)(8,132)};
}
\pnl{159.75}{475.875}{83}{ytick distance=50}{
\addplot[sC] coordinates {(1,555)(2,740)(3,735)(4,710)(5,790)(6,770)(7,740)(8,710)};
}
\pnl{223.5}{475.875}{84}{ytick distance=40}{
\addplot[sC] coordinates {(1,95)(2,195)(3,225)(4,190)(5,222)(6,218)(7,210)(8,185)};
}
\pnl{287.25}{475.875}{85}{ytick distance=40}{
\addplot[sC] coordinates {(1,200)(2,300)(3,282)(4,195)(5,295)(6,245)(7,270)(8,290)};
}
\pnl{350.25}{475.875}{86}{ytick distance=50}{
\addplot[sC] coordinates {(1,0)(2,75)(3,0)(4,95)(5,40)(6,60)(7,95)(8,135)};
\addplot[sC] coordinates {(1,55)(2,70)(3,20)(4,65)(5,50)(6,80)(7,55)(8,100)};
}
\pnl{417.75}{475.875}{87}{ytick distance=50}{
\addplot[sC] coordinates {(1,365)(2,460)(3,515)(4,525)(5,470)(6,450)(7,440)(8,425)};
}
\pnl{481.5}{475.875}{88}{ytick distance=40}{
\addplot[sC] coordinates {(1,475)(2,355)(3,380)(4,415)(5,380)(6,425)(7,440)(8,450)};
}
\pnl{544.5}{475.875}{89}{ytick distance=40}{
\addplot[sC] coordinates {(1,75)(2,120)(3,160)(4,148)(5,180)(6,205)(7,195)(8,120)};
}
\pnl{611.25}{475.875}{90}{ytick distance=100}{
\addplot[sC] coordinates {(1,140)(2,195)(3,250)(4,170)(5,470)(6,445)(7,420)(8,180)};
}
\pnl{674.25}{475.875}{91}{ytick distance=50}{
\addplot[sC] coordinates {(1,110)(2,160)(3,262)(4,278)(5,230)(6,170)(7,105)(8,125)};
}
% ---------------- Row 9
\pnl{30}{541.5}{92}{ytick distance=200}{
\addplot[sC] coordinates {(1,0)(2,30)(3,110)(4,270)(5,340)(6,400)(7,450)(8,530)};
}
\pnl{93}{541.5}{93}{ytick distance=50}{
\addplot[sC] coordinates {(1,180)(2,0)(3,80)(4,170)(5,175)(6,190)(7,215)(8,0)};
}
\pnl{159.75}{541.5}{94}{ytick distance=100}{
\addplot[sC] coordinates {(1,300)(2,235)(3,380)(4,345)(5,370)(6,385)(7,400)(8,530)};
}
\pnl{223.5}{541.5}{95}{ytick distance=50}{
\addplot[sC] coordinates {(1,335)(2,292)(3,310)(4,280)(5,360)(6,400)(7,450)(8,312)};
}
\pnl{287.25}{541.5}{96}{ytick distance=50}{
\addplot[sC] coordinates {(1,165)(2,110)(3,245)(4,245)(5,205)(6,185)(7,180)(8,0)};
}
\pnl{350.25}{541.5}{97}{ytick distance=100}{
\addplot[sC] coordinates {(1,380)(2,80)(3,240)(4,40)(5,360)(6,360)(7,450)(8,560)};
}
\pnl{417.75}{541.5}{98}{ytick distance=250}{
\addplot[sC] coordinates {(1,260)(2,1150)(3,550)(4,1230)(5,450)(6,520)(7,600)(8,620)};
}
\pnl{481.5}{541.5}{99}{ytick distance=50}{
\addplot[sC] coordinates {(1,125)(2,160)(3,155)(4,148)(5,140)(6,172)(7,188)(8,255)};
}
\pnl{544.5}{541.5}{100}{ytick distance=200}{
\addplot[sC] coordinates {(1,0)(2,560)(3,330)(4,150)(5,0)(6,200)(7,0)(8,270)};
}
\pnl{611.25}{541.5}{101}{ytick distance=50}{
\addplot[sC] coordinates {(1,385)(2,380)(3,410)(4,410)(5,555)(6,520)(7,545)(8,570)};
}
\pnl{674.25}{541.5}{102}{ytick distance=100}{
\addplot[sC] coordinates {(1,330)(2,0)(3,100)(4,220)(5,0)(6,200)(7,420)(8,0)};
}
% ---------------- Row 10
\pnl{30}{607.125}{103}{ytick distance=50}{
\addplot[sC] coordinates {(1,340)(2,250)(3,238)(4,225)(5,205)(6,352)(7,210)(8,345)};
}
\pnl{93}{607.125}{104}{ytick distance=100}{
\addplot[sC] coordinates {(1,235)(2,0)(3,100)(4,250)(5,120)(6,260)(7,130)(8,0)};
}
\pnl{159.75}{607.125}{105}{ytick distance=250}{
\addplot[sC] coordinates {(1,390)(2,450)(3,200)(4,0)(5,0)(6,300)(7,980)(8,0)};
}
\pnl{223.5}{607.125}{106}{ytick distance=50}{
\addplot[sC] coordinates {(1,380)(2,400)(3,430)(4,465)(5,420)(6,330)(7,270)(8,470)};
}
\pnl{287.25}{607.125}{107}{ytick distance=100}{
\addplot[sC] coordinates {(1,0)(2,0)(3,90)(4,255)(5,100)(6,0)(7,0)(8,0)};
}
\pnl{350.25}{607.125}{108}{ytick distance=40}{
\addplot[sC] coordinates {(1,25)(2,55)(3,38)(4,50)(5,165)(6,115)(7,85)(8,58)};
}
\pnl{417.75}{607.125}{109}{ytick distance=50,bot}{
\addplot[sC] coordinates {(1,335)(2,290)(3,245)(4,195)(5,230)(6,155)(7,160)(8,255)};
}
\pnl{481.5}{607.125}{110}{ytick distance=50,bot}{
\addplot[sC] coordinates {(1,0)(2,0)(3,0)(4,155)(5,0)(6,0)(7,0)(8,0)};
}
\pnl{544.5}{607.125}{111}{ytick distance=100,bot}{
\addplot[sC] coordinates {(1,450)(2,40)(3,140)(4,175)(5,130)(6,80)(7,40)(8,0)};
}
\pnl{611.25}{607.125}{112}{ytick distance=100,bot}{
\addplot[sC] coordinates {(1,730)(2,560)(3,400)(4,330)(5,260)(6,285)(7,505)(8,320)};
}
\pnl{674.25}{607.125}{113}{ytick distance=100,bot}{
\addplot[sC] coordinates {(1,560)(2,265)(3,360)(4,262)(5,288)(6,230)(7,175)(8,195)};
}
% ---------------- Row 11
\pnl{30}{672.75}{114}{ytick={250,350,...,650},bot}{
\addplot[sC] coordinates {(1,300)(2,580)(3,265)(4,370)(5,400)(6,520)(7,640)(8,585)};
}
\pnl{93}{672.75}{115}{ytick distance=50,bot}{
\addplot[sC] coordinates {(1,0)(2,0)(3,0)(4,45)(5,100)(6,155)(7,162)(8,0)};
}
\pnl{159.75}{672.75}{116}{ytick distance=25,bot}{
\addplot[sC] coordinates {(1,40)(2,0)(3,40)(4,105)(5,0)(6,10)(7,18)(8,28)};
}
\pnl{223.5}{672.75}{117}{ytick distance=100,bot}{
\addplot[sC] coordinates {(1,280)(2,305)(3,365)(4,268)(5,242)(6,255)(7,270)(8,475)};
}
\pnl{287.25}{672.75}{118}{ytick distance=100,bot}{
\addplot[sC] coordinates {(1,130)(2,180)(3,330)(4,410)(5,360)(6,300)(7,290)(8,420)};
}
\pnl{350.25}{672.75}{119}{ytick distance=50,bot}{
\addplot[sC] coordinates {(1,120)(2,260)(3,245)(4,225)(5,195)(6,340)(7,350)(8,300)};
}
% ---------------- Titles and legend
\node[rotate=90, font=\fontsize{8.25}{9}\selectfont] at (7.5pt,-363pt) {Normalized Spectral Abundance Factor};
\node[font=\fontsize{8.25}{9}\selectfont] at (374pt,-742pt) {Time Point};
\node[anchor=west, font=\fontsize{8.25}{9}\selectfont] at (712.5pt,-378.5pt) {silo};
\draw[c3, line width=0.8pt] (716pt,-391pt) -- (729pt,-391pt);
\draw[c9, line width=0.8pt] (716pt,-404.5pt) -- (729pt,-404.5pt);
\node[anchor=west, font=\tf] at (734pt,-391pt) {3};
\node[anchor=west, font=\tf] at (734pt,-404.5pt) {9};
\end{tikzpicture}
\end{document}
